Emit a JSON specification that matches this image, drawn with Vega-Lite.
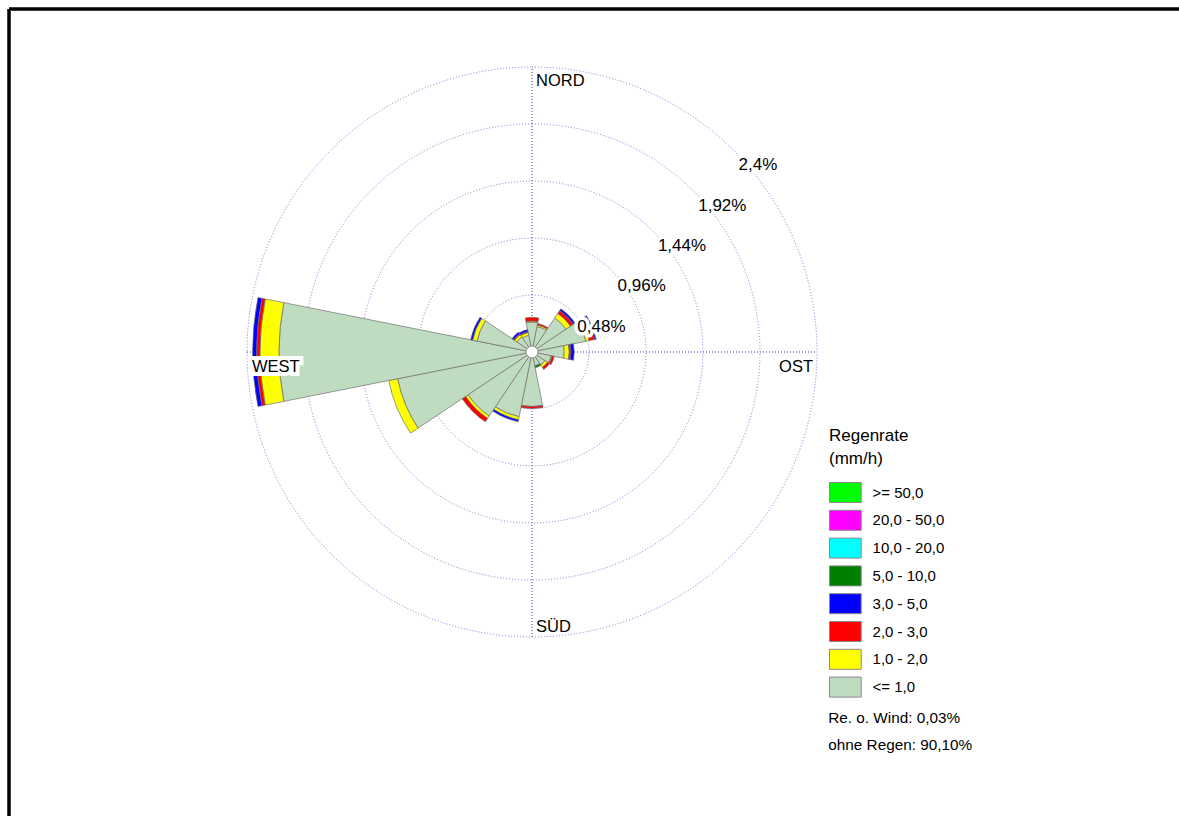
{
  "$schema": "https://vega.github.io/schema/vega-lite/v6.json",
  "width": 1170,
  "height": 807,
  "autosize": {"type": "none"},
  "padding": {"left": 9, "top": 9, "right": 0, "bottom": 0},
  "background": "white",
  "config": {
    "view": {"stroke": null},
    "font": "Liberation Sans",
    "legend": {"labelFont": "Liberation Sans", "titleFont": "Liberation Sans", "labelColor": "#000", "titleColor": "#000"}
  },
  "datasets": {
    "sektoren": [
      {"richtung": 0, "klasse": "<= 1,0", "ab": 0, "anteil": 0.253},
      {"richtung": 0, "klasse": "1,0 - 2,0", "ab": 1, "anteil": 0.008},
      {"richtung": 0, "klasse": "2,0 - 3,0", "ab": 2, "anteil": 0.031},
      {"richtung": 22.5, "klasse": "<= 1,0", "ab": 0, "anteil": 0.219},
      {"richtung": 22.5, "klasse": "1,0 - 2,0", "ab": 1, "anteil": 0.013},
      {"richtung": 22.5, "klasse": "2,0 - 3,0", "ab": 2, "anteil": 0.013},
      {"richtung": 45, "klasse": "<= 1,0", "ab": 0, "anteil": 0.345},
      {"richtung": 45, "klasse": "1,0 - 2,0", "ab": 1, "anteil": 0.046},
      {"richtung": 45, "klasse": "2,0 - 3,0", "ab": 2, "anteil": 0.029},
      {"richtung": 45, "klasse": "3,0 - 5,0", "ab": 3, "anteil": 0.017},
      {"richtung": 67.5, "klasse": "<= 1,0", "ab": 0, "anteil": 0.463},
      {"richtung": 67.5, "klasse": "1,0 - 2,0", "ab": 1, "anteil": 0.029},
      {"richtung": 67.5, "klasse": "2,0 - 3,0", "ab": 2, "anteil": 0.046},
      {"richtung": 67.5, "klasse": "3,0 - 5,0", "ab": 3, "anteil": 0.013},
      {"richtung": 90, "klasse": "<= 1,0", "ab": 0, "anteil": 0.272},
      {"richtung": 90, "klasse": "1,0 - 2,0", "ab": 1, "anteil": 0.042},
      {"richtung": 90, "klasse": "2,0 - 3,0", "ab": 2, "anteil": 0.014},
      {"richtung": 90, "klasse": "3,0 - 5,0", "ab": 3, "anteil": 0.028},
      {"richtung": 112.5, "klasse": "<= 1,0", "ab": 0, "anteil": 0.164},
      {"richtung": 112.5, "klasse": "1,0 - 2,0", "ab": 1, "anteil": 0.008},
      {"richtung": 112.5, "klasse": "2,0 - 3,0", "ab": 2, "anteil": 0.019},
      {"richtung": 135, "klasse": "<= 1,0", "ab": 0, "anteil": 0.131},
      {"richtung": 135, "klasse": "1,0 - 2,0", "ab": 1, "anteil": 0.025},
      {"richtung": 135, "klasse": "2,0 - 3,0", "ab": 2, "anteil": 0.021},
      {"richtung": 157.5, "klasse": "<= 1,0", "ab": 0, "anteil": 0.118},
      {"richtung": 157.5, "klasse": "5,0 - 10,0", "ab": 5, "anteil": 0.017},
      {"richtung": 180, "klasse": "<= 1,0", "ab": 0, "anteil": 0.459},
      {"richtung": 180, "klasse": "2,0 - 3,0", "ab": 2, "anteil": 0.017},
      {"richtung": 202.5, "klasse": "<= 1,0", "ab": 0, "anteil": 0.556},
      {"richtung": 202.5, "klasse": "1,0 - 2,0", "ab": 1, "anteil": 0.025},
      {"richtung": 202.5, "klasse": "3,0 - 5,0", "ab": 3, "anteil": 0.017},
      {"richtung": 225, "klasse": "<= 1,0", "ab": 0, "anteil": 0.648},
      {"richtung": 225, "klasse": "1,0 - 2,0", "ab": 1, "anteil": 0.025},
      {"richtung": 225, "klasse": "2,0 - 3,0", "ab": 2, "anteil": 0.034},
      {"richtung": 247.5, "klasse": "<= 1,0", "ab": 0, "anteil": 1.154},
      {"richtung": 247.5, "klasse": "1,0 - 2,0", "ab": 1, "anteil": 0.076},
      {"richtung": 270, "klasse": "<= 1,0", "ab": 0, "anteil": 2.131},
      {"richtung": 270, "klasse": "1,0 - 2,0", "ab": 1, "anteil": 0.160},
      {"richtung": 270, "klasse": "2,0 - 3,0", "ab": 2, "anteil": 0.028},
      {"richtung": 270, "klasse": "3,0 - 5,0", "ab": 3, "anteil": 0.034},
      {"richtung": 292.5, "klasse": "<= 1,0", "ab": 0, "anteil": 0.472},
      {"richtung": 292.5, "klasse": "1,0 - 2,0", "ab": 1, "anteil": 0.038},
      {"richtung": 292.5, "klasse": "3,0 - 5,0", "ab": 3, "anteil": 0.017},
      {"richtung": 315, "klasse": "<= 1,0", "ab": 0, "anteil": 0.152},
      {"richtung": 315, "klasse": "1,0 - 2,0", "ab": 1, "anteil": 0.025},
      {"richtung": 315, "klasse": "2,0 - 3,0", "ab": 2, "anteil": 0.008},
      {"richtung": 315, "klasse": "3,0 - 5,0", "ab": 3, "anteil": 0.017},
      {"richtung": 337.5, "klasse": "<= 1,0", "ab": 0, "anteil": 0.143},
      {"richtung": 337.5, "klasse": "1,0 - 2,0", "ab": 1, "anteil": 0.025},
      {"richtung": 337.5, "klasse": "2,0 - 3,0", "ab": 2, "anteil": 0.008},
      {"richtung": 337.5, "klasse": "3,0 - 5,0", "ab": 3, "anteil": 0.017}
    ],
    "ringe": [
      {"ring": 0.48, "label": "0,48%"},
      {"ring": 0.96, "label": "0,96%"},
      {"ring": 1.44, "label": "1,44%"},
      {"ring": 1.92, "label": "1,92%"},
      {"ring": 2.4, "label": "2,4%"}
    ],
    "himmel": [
      {"richtung": 0, "name": "NORD"},
      {"richtung": 90, "name": "OST"},
      {"richtung": 180, "name": "SÜD"},
      {"richtung": 270, "name": "WEST"}
    ],
    "zusatz": [
      {"info": "Re. o. Wind: 0,03%"},
      {"info": "ohne Regen: 90,10%"}
    ]
  },
  "layer": [
    {
      "data": {"name": "zusatz"},
      "mark": {"type": "rule", "stroke": "#000", "strokeWidth": 3},
      "encoding": {
        "x": {"datum": -4.40421, "type": "quantitative", "axis": null, "scale": {"domain": [-4.40421, 5.44842], "nice": false, "zero": false}}
      }
    },
    {
      "data": {"name": "zusatz"},
      "mark": {"type": "rule", "stroke": "#000", "strokeWidth": 3},
      "encoding": {
        "y": {"datum": 2.88842, "type": "quantitative", "axis": null, "scale": {"domain": [-3.90737, 2.88842], "nice": false, "zero": false}}
      }
    },
    {
      "data": {"name": "zusatz"},
      "mark": {"type": "rule", "stroke": "#7a7ad6", "strokeWidth": 1, "strokeDash": [1, 2]},
      "encoding": {
        "x": {"datum": 0, "type": "quantitative", "axis": null},
        "y": {"datum": -2.4, "type": "quantitative", "axis": null},
        "y2": {"datum": 2.4}
      }
    },
    {
      "data": {"name": "zusatz"},
      "mark": {"type": "rule", "stroke": "#7a7ad6", "strokeWidth": 1, "strokeDash": [1, 2]},
      "encoding": {
        "y": {"datum": 0, "type": "quantitative", "axis": null},
        "x": {"datum": -2.4, "type": "quantitative", "axis": null},
        "x2": {"datum": 2.4}
      }
    },
    {
      "data": {"name": "ringe"},
      "mark": {"type": "arc", "filled": false, "fill": null, "stroke": "#7a7ad6", "strokeWidth": 1, "strokeDash": [1, 2]},
      "encoding": {
        "x": {"datum": 0, "type": "quantitative", "axis": null, "stack": null},
        "y": {"datum": 0, "type": "quantitative", "axis": null, "stack": null},
        "theta": {"value": 0},
        "theta2": {"value": 6.2832},
        "radius": {"field": "ring", "type": "quantitative", "stack": null, "scale": {"type": "linear", "domain": [0, 2.4], "range": [0, 285], "nice": false, "zero": true}}
      }
    },
    {
      "data": {"name": "sektoren"},
      "transform": [
        {"stack": "anteil", "groupby": ["richtung"], "sort": [{"field": "ab", "order": "ascending"}], "as": ["r0", "r1"]}
      ],
      "mark": {"type": "arc", "stroke": "#6e6e6e", "strokeWidth": 0.7},
      "encoding": {
        "x": {"datum": 0, "type": "quantitative", "axis": null, "stack": null},
        "y": {"datum": 0, "type": "quantitative", "axis": null, "stack": null},
        "theta": {
          "field": "richtung", "type": "ordinal",
          "scale": {"type": "band", "domain": [0, 22.5, 45, 67.5, 90, 112.5, 135, 157.5, 180, 202.5, 225, 247.5, 270, 292.5, 315, 337.5], "range": [-0.19635, 6.08684], "paddingInner": 0, "paddingOuter": 0}
        },
        "radius": {"field": "r1", "type": "quantitative", "scale": {"type": "linear", "domain": [0, 2.4], "range": [0, 285], "nice": false, "zero": true}},
        "radius2": {"field": "r0"},
        "color": {
          "field": "klasse", "type": "nominal",
          "scale": {
            "domain": [">= 50,0", "20,0 - 50,0", "10,0 - 20,0", "5,0 - 10,0", "3,0 - 5,0", "2,0 - 3,0", "1,0 - 2,0", "<= 1,0"],
            "range": ["#00ff00", "#ff00ff", "#00ffff", "#008000", "#0000ff", "#ff0000", "#ffff00", "#c0dcc0"]
          },
          "legend": {
            "orient": "none", "legendX": 820, "legendY": 419, "padding": 0,
            "title": ["Regenrate", "(mm/h)"], "titleFontSize": 17, "titleFontWeight": "normal", "titleLineHeight": 23, "titlePadding": 14,
            "labelFontSize": 15, "labelOffset": 16.7,
            "symbolType": "M-1.585,-1L1.585,-1L1.585,1L-1.585,1Z", "symbolSize": 400, "symbolOffset": 5.85,
            "symbolStrokeColor": "#8a8a8a", "symbolStrokeWidth": 1, "symbolOpacity": 1,
            "rowPadding": 2.8
          }
        }
      }
    },
    {
      "data": {"name": "zusatz"},
      "mark": {"type": "arc", "fill": "white", "stroke": "#8a8a8a", "strokeWidth": 0.8},
      "encoding": {
        "x": {"datum": 0, "type": "quantitative", "axis": null, "stack": null},
        "y": {"datum": 0, "type": "quantitative", "axis": null, "stack": null},
        "theta": {"value": 0},
        "theta2": {"value": 6.2832},
        "radius": {"datum": 0.05, "type": "quantitative", "stack": null}
      }
    },
    {
      "data": {"name": "ringe"},
      "mark": {"type": "text", "align": "left", "baseline": "alphabetic", "dx": 5, "dy": 20, "fontSize": 17, "fill": "white", "stroke": "white", "strokeWidth": 7, "strokeJoin": "round"},
      "encoding": {
        "x": {"datum": 0, "type": "quantitative", "axis": null},
        "y": {"datum": 0, "type": "quantitative", "axis": null},
        "theta": {"value": 0.7854},
        "radius": {"field": "ring", "type": "quantitative"},
        "text": {"field": "label"}
      }
    },
    {
      "data": {"name": "ringe"},
      "mark": {"type": "text", "align": "left", "baseline": "alphabetic", "dx": 5, "dy": 20, "fontSize": 17, "fill": "#000"},
      "encoding": {
        "x": {"datum": 0, "type": "quantitative", "axis": null},
        "y": {"datum": 0, "type": "quantitative", "axis": null},
        "theta": {"value": 0.7854},
        "radius": {"field": "ring", "type": "quantitative"},
        "text": {"field": "label"}
      }
    },
    {
      "data": {"name": "himmel"},
      "transform": [{"filter": "datum.name === 'NORD'"}],
      "mark": {"type": "text", "align": "left", "baseline": "alphabetic", "dx": 4, "dy": 19, "fontSize": 16.5, "fill": "#000"},
      "encoding": {
        "x": {"datum": 0, "type": "quantitative", "axis": null},
        "y": {"datum": 0, "type": "quantitative", "axis": null},
        "theta": {"field": "richtung", "type": "ordinal"},
        "radius": {"datum": 2.4, "type": "quantitative"},
        "text": {"field": "name"}
      }
    },
    {
      "data": {"name": "himmel"},
      "transform": [{"filter": "datum.name === 'OST'"}],
      "mark": {"type": "text", "align": "right", "baseline": "alphabetic", "dx": -4, "dy": 20, "fontSize": 16.5, "fill": "#000"},
      "encoding": {
        "x": {"datum": 0, "type": "quantitative", "axis": null},
        "y": {"datum": 0, "type": "quantitative", "axis": null},
        "theta": {"field": "richtung", "type": "ordinal"},
        "radius": {"datum": 2.4, "type": "quantitative"},
        "text": {"field": "name"}
      }
    },
    {
      "data": {"name": "himmel"},
      "transform": [{"filter": "datum.name === 'SÜD'"}],
      "mark": {"type": "text", "align": "left", "baseline": "alphabetic", "dx": 4, "dy": -5, "fontSize": 16.5, "fill": "#000"},
      "encoding": {
        "x": {"datum": 0, "type": "quantitative", "axis": null},
        "y": {"datum": 0, "type": "quantitative", "axis": null},
        "theta": {"field": "richtung", "type": "ordinal"},
        "radius": {"datum": 2.4, "type": "quantitative"},
        "text": {"field": "name"}
      }
    },
    {
      "data": {"name": "himmel"},
      "transform": [{"filter": "datum.name === 'WEST'"}],
      "mark": {"type": "text", "align": "left", "baseline": "alphabetic", "dx": 5, "dy": 20, "fontSize": 16.5, "fill": "white", "stroke": "white", "strokeWidth": 8, "strokeJoin": "miter"},
      "encoding": {
        "x": {"datum": 0, "type": "quantitative", "axis": null},
        "y": {"datum": 0, "type": "quantitative", "axis": null},
        "theta": {"field": "richtung", "type": "ordinal"},
        "radius": {"datum": 2.4, "type": "quantitative"},
        "text": {"field": "name"}
      }
    },
    {
      "data": {"name": "himmel"},
      "transform": [{"filter": "datum.name === 'WEST'"}],
      "mark": {"type": "text", "align": "left", "baseline": "alphabetic", "dx": 5, "dy": 20, "fontSize": 16.5, "fill": "#000"},
      "encoding": {
        "x": {"datum": 0, "type": "quantitative", "axis": null},
        "y": {"datum": 0, "type": "quantitative", "axis": null},
        "theta": {"field": "richtung", "type": "ordinal"},
        "radius": {"datum": 2.4, "type": "quantitative"},
        "text": {"field": "name"}
      }
    },
    {
      "data": {"name": "zusatz"},
      "mark": {"type": "point", "opacity": 0},
      "encoding": {
        "x": {"datum": 0, "type": "quantitative", "axis": null},
        "y": {"datum": 0, "type": "quantitative", "axis": null},
        "shape": {
          "field": "info", "type": "nominal",
          "scale": {"domain": ["Re. o. Wind: 0,03%", "ohne Regen: 90,10%"], "range": ["circle", "circle"]},
          "legend": {
            "orient": "none", "legendX": 804, "legendY": 701, "padding": 0, "title": null,
            "symbolSize": 0, "symbolOpacity": 0, "symbolStrokeWidth": 0, "labelOffset": 0,
            "labelFontSize": 15.3, "rowPadding": 11
          }
        }
      }
    }
  ]
}
